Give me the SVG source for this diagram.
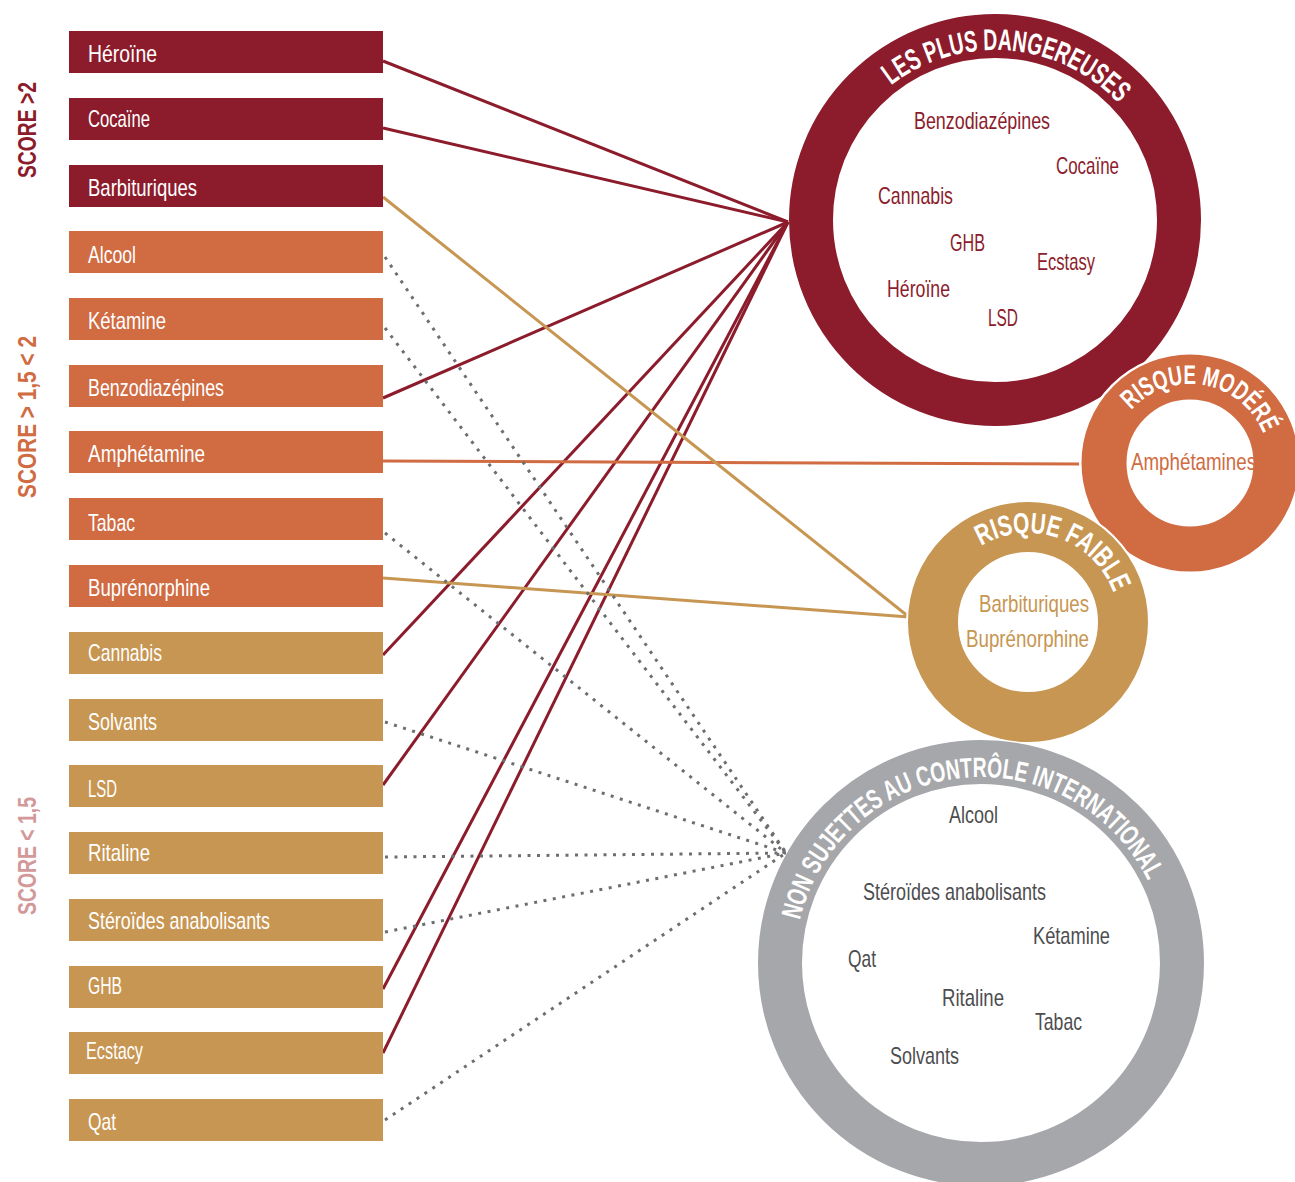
<svg xmlns="http://www.w3.org/2000/svg" width="1295" height="1182" viewBox="0 0 1295 1182">
<style>
.lbl{font-family:"Liberation Sans",Arial,sans-serif;font-size:24px;fill:#fff}
.ct{font-family:"Liberation Sans",Arial,sans-serif;font-size:24px}
.arc{font-family:"Liberation Sans",Arial,sans-serif;font-weight:bold;fill:#fff}
.score{font-family:"Liberation Sans",Arial,sans-serif;font-weight:bold;font-size:25px}
.red{fill:#8C1C2C}.ora{fill:#D06B42}.tan{fill:#C79652}
.sr{stroke:#8C1C2C;stroke-width:3;fill:none}
.so{stroke:#D06B42;stroke-width:3;fill:none}
.st{stroke:#C79652;stroke-width:3;fill:none}
.sd{stroke:#6D6E71;stroke-width:3;fill:none;stroke-dasharray:3 6.5}
</style>
<defs>
<path id="pRed" d="M825,220 A170,170 0 0 1 1165,220"/>
<path id="pOra" d="M1111,463 A79,79 0 0 1 1269,463"/>
<path id="pTan" d="M937,624 A91,91 0 0 1 1119,624"/>
<path id="pGray" d="M795,963 A186,186 0 0 1 1167,963"/>
</defs>
<g id="scores">
<text class="score" fill="#8C1C2C" transform="translate(36,178) rotate(-90)" textLength="96" lengthAdjust="spacingAndGlyphs">SCORE &gt;2</text>
<text class="score" fill="#D06B42" transform="translate(36,498) rotate(-90)" textLength="162" lengthAdjust="spacingAndGlyphs">SCORE &gt; 1,5 &lt; 2</text>
<text class="score" fill="#D3999A" transform="translate(36,915) rotate(-90)" textLength="118" lengthAdjust="spacingAndGlyphs">SCORE &lt; 1,5</text>
</g>
<g id="connectors">
<line class="sr" x1="383" y1="61" x2="788" y2="222"/>
<line class="sr" x1="383" y1="128" x2="788" y2="222"/>
<line class="sr" x1="383" y1="398" x2="788" y2="222"/>
<line class="sr" x1="383" y1="655" x2="788" y2="222"/>
<line class="sr" x1="383" y1="785" x2="788" y2="222"/>
<line class="sr" x1="383" y1="989" x2="788" y2="222"/>
<line class="sr" x1="383" y1="1053" x2="788" y2="222"/>
<line class="so" x1="383" y1="461" x2="1082" y2="464"/>
<line class="st" x1="383" y1="197" x2="909" y2="617"/>
<line class="st" x1="383" y1="578" x2="909" y2="617"/>
<line class="sd" x1="385" y1="257" x2="786" y2="853"/>
<line class="sd" x1="385" y1="328" x2="786" y2="853"/>
<line class="sd" x1="385" y1="533" x2="786" y2="853"/>
<line class="sd" x1="385" y1="722" x2="786" y2="853"/>
<line class="sd" x1="385" y1="857" x2="786" y2="853"/>
<line class="sd" x1="385" y1="932" x2="786" y2="853"/>
<line class="sd" x1="385" y1="1120" x2="786" y2="853"/>
</g>
<g id="boxes">
<g id="n-heroine"><rect class="red" x="69" y="31" width="314" height="42"/><text class="lbl" x="88" y="62" textLength="69" lengthAdjust="spacingAndGlyphs">Héroïne</text></g>
<g id="n-cocaine"><rect class="red" x="69" y="98" width="314" height="42"/><text class="lbl" x="88" y="127" textLength="62" lengthAdjust="spacingAndGlyphs">Cocaïne</text></g>
<g id="n-barbituriques"><rect class="red" x="69" y="165" width="314" height="42"/><text class="lbl" x="88" y="196" textLength="109" lengthAdjust="spacingAndGlyphs">Barbituriques</text></g>
<g id="n-alcool"><rect class="ora" x="69" y="231" width="314" height="42"/><text class="lbl" x="88" y="263" textLength="48" lengthAdjust="spacingAndGlyphs">Alcool</text></g>
<g id="n-ketamine"><rect class="ora" x="69" y="298" width="314" height="42"/><text class="lbl" x="88" y="329" textLength="78" lengthAdjust="spacingAndGlyphs">Kétamine</text></g>
<g id="n-benzo"><rect class="ora" x="69" y="365" width="314" height="42"/><text class="lbl" x="88" y="396" textLength="136" lengthAdjust="spacingAndGlyphs">Benzodiazépines</text></g>
<g id="n-amphetamine"><rect class="ora" x="69" y="431" width="314" height="42"/><text class="lbl" x="88" y="462" textLength="117" lengthAdjust="spacingAndGlyphs">Amphétamine</text></g>
<g id="n-tabac"><rect class="ora" x="69" y="498" width="314" height="42"/><text class="lbl" x="88" y="531" textLength="47" lengthAdjust="spacingAndGlyphs">Tabac</text></g>
<g id="n-bupre"><rect class="ora" x="69" y="565" width="314" height="42"/><text class="lbl" x="88" y="596" textLength="122" lengthAdjust="spacingAndGlyphs">Buprénorphine</text></g>
<g id="n-cannabis"><rect class="tan" x="69" y="632" width="314" height="42"/><text class="lbl" x="88" y="661" textLength="74" lengthAdjust="spacingAndGlyphs">Cannabis</text></g>
<g id="n-solvants"><rect class="tan" x="69" y="699" width="314" height="42"/><text class="lbl" x="88" y="730" textLength="69" lengthAdjust="spacingAndGlyphs">Solvants</text></g>
<g id="n-lsd"><rect class="tan" x="69" y="765" width="314" height="42"/><text class="lbl" x="88" y="797" textLength="29" lengthAdjust="spacingAndGlyphs">LSD</text></g>
<g id="n-ritaline"><rect class="tan" x="69" y="832" width="314" height="42"/><text class="lbl" x="88" y="861" textLength="62" lengthAdjust="spacingAndGlyphs">Ritaline</text></g>
<g id="n-steroides"><rect class="tan" x="69" y="899" width="314" height="42"/><text class="lbl" x="88" y="929" textLength="182" lengthAdjust="spacingAndGlyphs">Stéroïdes anabolisants</text></g>
<g id="n-ghb"><rect class="tan" x="69" y="966" width="314" height="42"/><text class="lbl" x="88" y="994" textLength="34" lengthAdjust="spacingAndGlyphs">GHB</text></g>
<g id="n-ecstacy"><rect class="tan" x="69" y="1032" width="314" height="42"/><text class="lbl" x="86" y="1059" textLength="57" lengthAdjust="spacingAndGlyphs">Ecstacy</text></g>
<g id="n-qat"><rect class="tan" x="69" y="1099" width="314" height="42"/><text class="lbl" x="88" y="1130" textLength="28" lengthAdjust="spacingAndGlyphs">Qat</text></g>
</g>
<g id="c-dangereuses">
<circle cx="995" cy="220" r="184" fill="#fff" stroke="#8C1C2C" stroke-width="44"/>
<text class="arc" font-size="30"><textPath href="#pRed" startOffset="52.5%" text-anchor="middle" textLength="250" lengthAdjust="spacingAndGlyphs">LES PLUS DANGEREUSES</textPath></text>
<text class="ct red" x="914" y="129" textLength="136" lengthAdjust="spacingAndGlyphs">Benzodiazépines</text>
<text class="ct red" x="1056" y="174" textLength="63" lengthAdjust="spacingAndGlyphs">Cocaïne</text>
<text class="ct red" x="878" y="204" textLength="75" lengthAdjust="spacingAndGlyphs">Cannabis</text>
<text class="ct red" x="950" y="251" textLength="35" lengthAdjust="spacingAndGlyphs">GHB</text>
<text class="ct red" x="1037" y="270" textLength="58" lengthAdjust="spacingAndGlyphs">Ecstasy</text>
<text class="ct red" x="887" y="297" textLength="63" lengthAdjust="spacingAndGlyphs">Héroïne</text>
<text class="ct red" x="988" y="326" textLength="30" lengthAdjust="spacingAndGlyphs">LSD</text>
</g>
<g id="c-modere">
<circle cx="1190" cy="463" r="111" fill="#fff"/>
<circle cx="1190" cy="463" r="86" fill="#fff" stroke="#D06B42" stroke-width="45"/>
<text class="arc" font-size="27"><textPath href="#pOra" startOffset="55.6%" text-anchor="middle" textLength="160" lengthAdjust="spacingAndGlyphs">RISQUE MODÉRÉ</textPath></text>
<text class="ct ora" x="1131" y="470" textLength="125" lengthAdjust="spacingAndGlyphs">Amphétamines</text>
</g>
<g id="c-faible">
<circle cx="1028" cy="622" r="122" fill="#fff"/>
<circle cx="1028" cy="622" r="95" fill="#fff" stroke="#C79652" stroke-width="50"/>
<text class="arc" font-size="29"><textPath href="#pTan" startOffset="60.8%" text-anchor="middle" textLength="160" lengthAdjust="spacingAndGlyphs">RISQUE FAIBLE</textPath></text>
<text class="ct tan" x="979" y="612" textLength="110" lengthAdjust="spacingAndGlyphs">Barbituriques</text>
<text class="ct tan" x="966" y="647" textLength="123" lengthAdjust="spacingAndGlyphs">Buprénorphine</text>
</g>
<g id="c-international">
<circle cx="981" cy="963" r="201" fill="#fff" stroke="#A6A7AA" stroke-width="44"/>
<text class="arc" font-size="28"><textPath href="#pGray" startOffset="46.4%" text-anchor="middle" textLength="456" lengthAdjust="spacingAndGlyphs">NON SUJETTES AU CONTRÔLE INTERNATIONAL</textPath></text>
<g fill="#4D4D4F">
<text class="ct" x="949" y="823" textLength="49" lengthAdjust="spacingAndGlyphs">Alcool</text>
<text class="ct" x="863" y="900" textLength="183" lengthAdjust="spacingAndGlyphs">Stéroïdes anabolisants</text>
<text class="ct" x="1033" y="944" textLength="77" lengthAdjust="spacingAndGlyphs">Kétamine</text>
<text class="ct" x="848" y="967" textLength="28" lengthAdjust="spacingAndGlyphs">Qat</text>
<text class="ct" x="942" y="1006" textLength="62" lengthAdjust="spacingAndGlyphs">Ritaline</text>
<text class="ct" x="1035" y="1030" textLength="47" lengthAdjust="spacingAndGlyphs">Tabac</text>
<text class="ct" x="890" y="1064" textLength="69" lengthAdjust="spacingAndGlyphs">Solvants</text>
</g>
</g>
</svg>
